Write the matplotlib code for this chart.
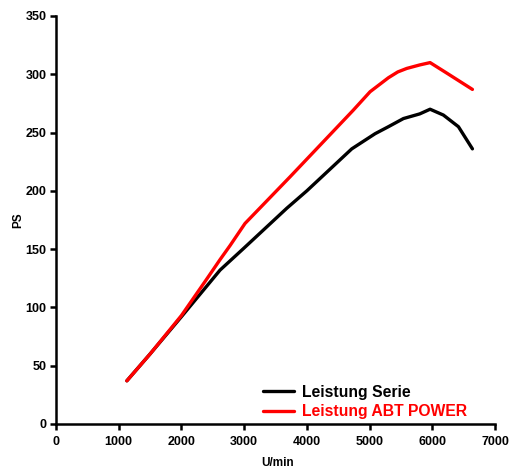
import matplotlib
matplotlib.use("Agg")
import matplotlib.pyplot as plt

rpm_serie = [1130, 1500, 2000, 2616, 3000, 3679, 4000, 4716, 5088, 5300, 5540, 5800, 5965, 6177, 6417, 6640]
ps_serie = [37, 60, 92, 132, 151, 185, 200, 236, 249, 255, 262, 266, 270, 265, 255, 236]
rpm_abt = [1130, 1500, 2000, 2400, 2616, 2775, 3014, 3732, 4737, 5008, 5300, 5450, 5593, 5800, 5965, 6231, 6640]
ps_abt = [37, 60, 93, 124, 141, 153, 172, 212, 269, 285, 297, 302, 305, 308, 310, 301, 287]
xticks = [0, 1000, 2000, 3000, 4000, 5000, 6000, 7000]
yticks = [0, 50, 100, 150, 200, 250, 300, 350]

plt.rcParams['font.family'] = ['Liberation Sans', 'DejaVu Sans']
fig = plt.figure(figsize=(5.09, 4.70), dpi=100)
ax = fig.add_axes([0.110, 0.098, 0.8625, 0.868])
l1, = ax.plot(rpm_serie, ps_serie, color='black', lw=2.4, label='Leistung Serie', solid_capstyle='round')
l2, = ax.plot(rpm_abt, ps_abt, color='#ff0000', lw=2.4, label='Leistung ABT POWER', solid_capstyle='round')
ax.set_xlim(0, 7000)
ax.set_ylim(0, 350)
ax.set_xticks(xticks)
ax.set_yticks(yticks)
for s in ['top', 'right']:
    ax.spines[s].set_visible(False)
for s in ['left', 'bottom']:
    ax.spines[s].set_linewidth(1.8)
ax.tick_params(direction='out', length=4, width=1.8, labelsize=9)
ax.tick_params(axis='x', pad=4.5)
ax.tick_params(axis='y', pad=3)
for lab in ax.get_xticklabels() + ax.get_yticklabels():
    lab.set_fontweight('bold')
ax.set_xlabel('U/min', fontsize=8.5, fontweight='bold')
ax.set_ylabel('PS', fontsize=8.5, fontweight='bold')
ax.xaxis.set_label_coords(0.505, -0.082)
ax.yaxis.set_label_coords(-0.073, 0.5)
leg = ax.legend(loc='lower left', bbox_to_anchor=(0.449, -0.012), frameon=False,
                prop={'weight': 'bold', 'size': 11.3}, handlelength=2.0, handletextpad=0.5,
                labelspacing=0.3, borderaxespad=0.2)
for t, c in zip(leg.get_texts(), ['black', '#ff0000']):
    t.set_color(c)
fig.savefig('out.png', dpi=100)
